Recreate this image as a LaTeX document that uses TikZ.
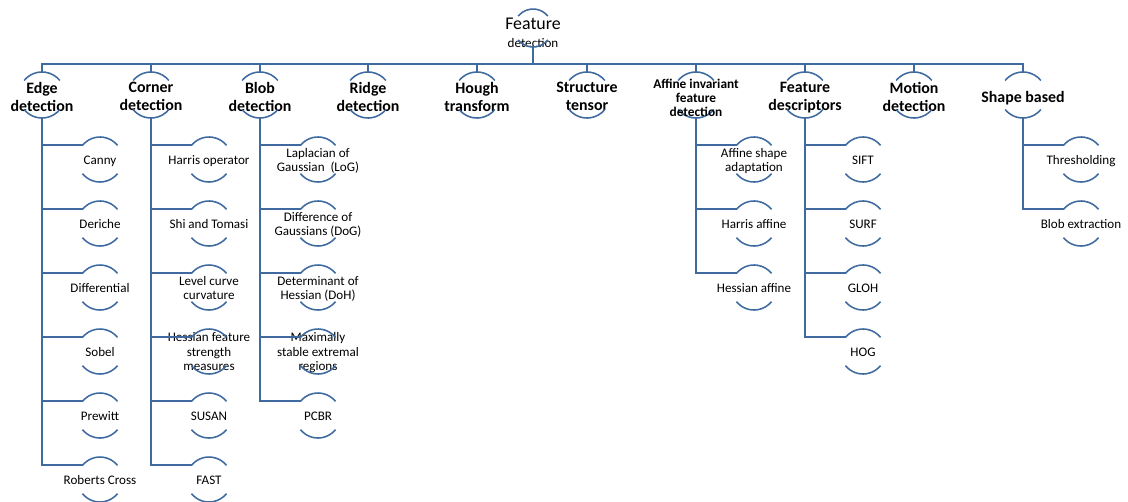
\documentclass[tikz,border=0pt]{standalone}
\usepackage{fontspec}
\setmainfont{Carlito}
\usepackage{xcolor}
\usepackage{tikz}

\definecolor{smartblue}{RGB}{62,106,160}

\begin{document}
\begin{tikzpicture}[x=0.025cm, y=0.025cm,
  link/.style={smartblue, line width=1.3pt},
  arcline/.style={smartblue, line width=1.1pt},
  ring/.style={circle, inner sep=0pt, outer sep=0pt, minimum size=#1},
  headtxt/.style={align=center, inner sep=0pt, text depth=2.6pt, yshift=-2.5pt, font=\bfseries\fontsize{11.3}{12.8}\selectfont},
  leaftxt/.style={align=center, inner sep=0pt, text depth=2.2pt, yshift=-1.4pt, font=\fontsize{9.3}{10.3}\selectfont}]
\useasboundingbox (0,0) rectangle (1128,-501);

% root
\node[ring=0.95cm] (root) at (533,-28) {};
\node[inner sep=0pt, font=\fontsize{12.7}{14}\selectfont] (roottop) at (533,-24) {Feature};
\node[inner sep=0pt, font=\fontsize{9.3}{10}\selectfont] (rootbot) at (533,-43) {detection};
\draw[arcline] (root.141) arc[start angle=141, end angle=39, radius=0.475cm]
  (root.219) arc[start angle=219, end angle=321, radius=0.475cm];
\coordinate (bar) at (533,-64);

% first level
\foreach \n/\x/\t in {edge/42/{Edge\\detection}, corner/151/{Corner\\detection},
    blob/260/{Blob\\detection}, ridge/368/{Ridge\\detection}, hough/477/{Hough\\transform},
    struct/587/{Structure\\tensor}, affine/696/{}, desc/805/{Feature\\descriptors},
    motion/914/{Motion\\detection}, shape/1023/{Shape based}} {
  \node[ring=1.15cm] (\n) at (\x,-95) {};
  \node[headtxt] at (\n) {\t};
  \draw[link] (root.south) -- (bar) -| (\n.north);
  \draw[arcline] (\n.141) arc[start angle=141, end angle=39, radius=0.575cm]
    (\n.219) arc[start angle=219, end angle=321, radius=0.575cm];
}
\node[headtxt, font=\bfseries\fontsize{9.5}{10}\selectfont] at (696,-96)
  {Affine invariant\\feature\\detection};

% second level
\foreach \t [count=\i] in {Canny, Deriche, Differential, Sobel, Prewitt, Roberts Cross} {
  \node[ring=1.125cm] (edge\i) at (100,-95.5-64*\i) {};
  \node[leaftxt] at (edge\i) {\t};
  \draw[link] (edge.south) |- (edge\i.141);
  \draw[arcline] (edge\i.141) arc[start angle=141, end angle=39, radius=0.5625cm]
    (edge\i.219) arc[start angle=219, end angle=321, radius=0.5625cm];
}
\foreach \t [count=\i] in {Harris operator, Shi and Tomasi, {Level curve\\curvature},
    {Hessian feature\\strength\\measures}, SUSAN, FAST} {
  \node[ring=1.125cm] (corner\i) at (209,-95.5-64*\i) {};
  \node[leaftxt] at (corner\i) {\t};
  \draw[link] (corner.south) |- (corner\i.141);
  \draw[arcline] (corner\i.141) arc[start angle=141, end angle=39, radius=0.5625cm]
    (corner\i.219) arc[start angle=219, end angle=321, radius=0.5625cm];
}
\foreach \t [count=\i] in {{Laplacian of\\Gaussian~~(LoG)}, {Difference of\\Gaussians (DoG)},
    {Determinant of\\Hessian (DoH)}, {Maximally\\stable extremal\\regions}, PCBR} {
  \node[ring=1.125cm] (blob\i) at (318,-95.5-64*\i) {};
  \node[leaftxt] at (blob\i) {\t};
  \draw[link] (blob.south) |- (blob\i.141);
  \draw[arcline] (blob\i.141) arc[start angle=141, end angle=39, radius=0.5625cm]
    (blob\i.219) arc[start angle=219, end angle=321, radius=0.5625cm];
}
\foreach \t [count=\i] in {{Affine shape\\adaptation}, Harris affine, Hessian affine} {
  \node[ring=1.125cm] (affine\i) at (754,-95.5-64*\i) {};
  \node[leaftxt] at (affine\i) {\t};
  \draw[link] (affine.south) |- (affine\i.141);
  \draw[arcline] (affine\i.141) arc[start angle=141, end angle=39, radius=0.5625cm]
    (affine\i.219) arc[start angle=219, end angle=321, radius=0.5625cm];
}
\foreach \t [count=\i] in {SIFT, SURF, GLOH, HOG} {
  \node[ring=1.125cm] (desc\i) at (863,-95.5-64*\i) {};
  \node[leaftxt] at (desc\i) {\t};
  \draw[link] (desc.south) |- (desc\i.141);
  \draw[arcline] (desc\i.141) arc[start angle=141, end angle=39, radius=0.5625cm]
    (desc\i.219) arc[start angle=219, end angle=321, radius=0.5625cm];
}
\foreach \t [count=\i] in {Thresholding, Blob extraction} {
  \node[ring=1.125cm] (shape\i) at (1081,-95.5-64*\i) {};
  \node[leaftxt] at (shape\i) {\t};
  \draw[link] (shape.south) |- (shape\i.141);
  \draw[arcline] (shape\i.141) arc[start angle=141, end angle=39, radius=0.5625cm]
    (shape\i.219) arc[start angle=219, end angle=321, radius=0.5625cm];
}
\end{tikzpicture}
\end{document}
